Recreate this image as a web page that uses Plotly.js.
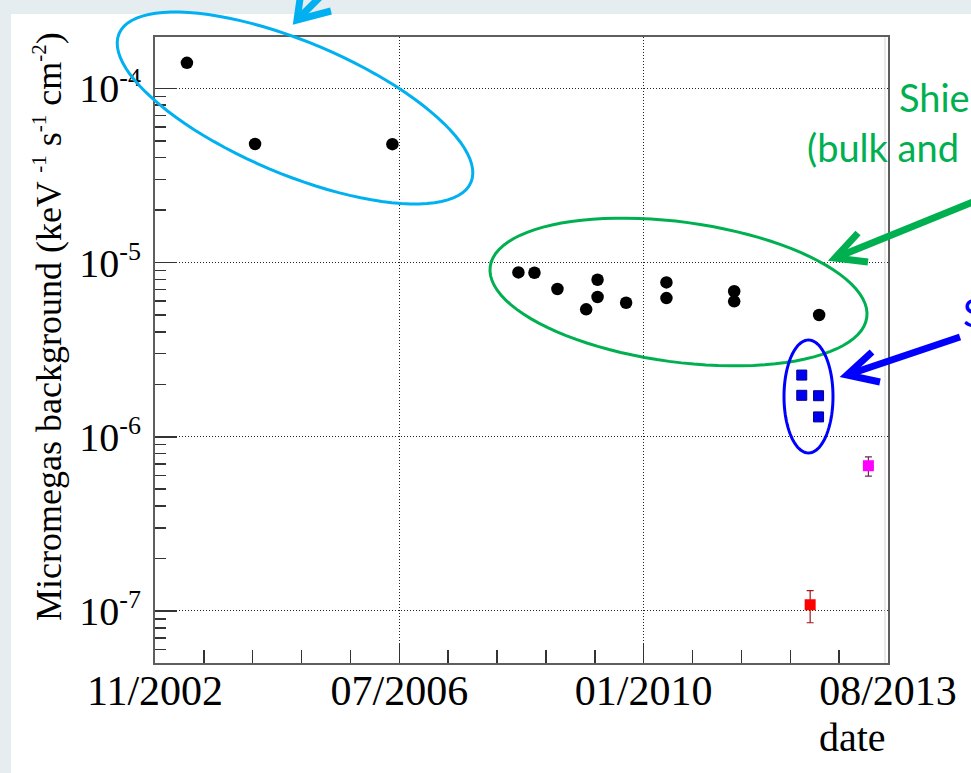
<!DOCTYPE html>
<html>
<head>
<meta charset="utf-8">
<script src="https://cdn.plot.ly/plotly-3.0.1.min.js"></script>
<style>
  html, body { margin: 0; padding: 0; background: #ffffff; }
  #chart { width: 971px; height: 773px; }
</style>
</head>
<body>
<div id="chart"></div>
<script>
// Micromegas background level versus date of measurement.

// Unshielded early detectors and shielded (bulk and microbulk) detectors
const blackDates = ['2003-05-20', '2004-05-19', '2006-05-25', '2008-03-30', '2008-06-24',
                    '2008-10-25', '2009-03-28', '2009-05-28', '2009-05-28', '2009-10-28',
                    '2010-06-01', '2010-06-01', '2011-05-30', '2011-05-30', '2012-08-27'];
const blackValues = [1.40e-4, 4.79e-5, 4.78e-5, 8.78e-6, 8.74e-6,
                     7.05e-6, 5.39e-6, 7.97e-6, 6.34e-6, 5.88e-6,
                     7.69e-6, 6.25e-6, 6.84e-6, 5.99e-6, 5.00e-6];

// Blue squares
const blueDates = ['2012-05-26', '2012-05-26', '2012-08-24', '2012-08-24'];
const blueValues = [2.26e-6, 1.73e-6, 1.72e-6, 1.30e-6];

// Magenta point with its uncertainty
const magentaDates = ['2013-05-18'];
const magentaValues = [6.82e-7];
const magentaErrUp = [0.85e-7];
const magentaErrDown = [0.88e-7];

// Red point with its uncertainty
const redDates = ['2012-07-10'];
const redValues = [1.086e-7];
const redErrUp = [0.224e-7];
const redErrDown = [0.23e-7];

// Axis labels
const xTickLabels = ['11/2002', '07/2006', '01/2010', '08/2013'];
const yTickExponents = [-7, -6, -5, -4];

// ---- axis geometry ----
const W = 971, H = 773;
const L = 155, R = 888, T = 37, B = 663;     // frame edges in page pixels
const xStart = Date.parse('2002-11-30T00:00:00Z');
const xEnd = Date.parse('2013-08-31T00:00:00Z');
const yRange = [-7.2985, -3.7055];

// Four equally spaced major time ticks, five divisions between each
const span = (xEnd - xStart) / 3;
const majorX = [], minorX = [];
for (let i = 0; i <= 3; i++) majorX.push(new Date(xStart + i * span).toISOString());
for (let i = 0; i <= 15; i++) if (i % 5) minorX.push(new Date(xStart + i * span / 5).toISOString());

const majorY = yTickExponents.map(e => Math.pow(10, e));
const yTickText = yTickExponents.map(e =>
  '10<sup><span style="font-size:26px">' + String(e) + '</span></sup>');
const minorY = [];
for (let e = -8; e <= -4; e++) for (let m = 2; m <= 9; m++) minorY.push(m * Math.pow(10, e));

// page pixel -> paper coordinates
const px = x => (x - L) / (R - L);
const py = y => (B - y) / (B - T);

function ellipsePath(cx, cy, a, b, deg) {
  const th = deg * Math.PI / 180, n = 96;
  let d = '';
  for (let i = 0; i <= n; i++) {
    const t = 2 * Math.PI * i / n;
    const x = cx + a * Math.cos(t) * Math.cos(th) - b * Math.sin(t) * Math.sin(th);
    const y = cy + a * Math.cos(t) * Math.sin(th) + b * Math.sin(t) * Math.cos(th);
    d += (i ? ' L ' : 'M ') + px(x).toFixed(5) + ',' + py(y).toFixed(5);
  }
  return d + ' Z';
}
function polyPath(pts) {
  return pts.map((p, i) => (i ? ' L ' : 'M ') + px(p[0]).toFixed(5) + ',' + py(p[1]).toFixed(5)).join('');
}
function ring(d, color, width) {
  return { type: 'path', xref: 'paper', yref: 'paper', path: d, layer: 'above',
           line: { color: color, width: width }, fillcolor: 'rgba(0,0,0,0)' };
}

const lightBlue = '#00b0f0', green = '#00b050', blue = '#0000ff';

const shapes = [
  // grey slide margin along the top and left edges
  { type: 'rect', xref: 'paper', yref: 'paper', x0: px(-2), x1: px(W + 2), y0: py(14), y1: py(-2),
    fillcolor: '#e5edf0', line: { width: 0 }, layer: 'above' },
  { type: 'rect', xref: 'paper', yref: 'paper', x0: px(-2), x1: px(11), y0: py(H + 2), y1: py(-2),
    fillcolor: '#e5edf0', line: { width: 0 }, layer: 'above' },
  // thin grey line just inside the right frame
  { type: 'line', xref: 'paper', yref: 'paper', x0: px(885), x1: px(885), y0: 0, y1: 1,
    line: { color: '#d4d4d4', width: 1 }, layer: 'above' },
  ring(ellipsePath(295, 108, 191, 66, 22.9), lightBlue, 3),
  ring(ellipsePath(678.5, 292, 190, 70, 7.7), green, 3),
  ring(ellipsePath(808.5, 396.5, 24.5, 56.5, 0), blue, 3),
  // arrows: shaft, then open head
  ring(polyPath([[335, -18], [297, 20]]), lightBlue, 7),
  ring(polyPath([[301, -8], [297, 20], [331, 11]]), lightBlue, 7),
  ring(polyPath([[980, 199], [835, 258]]), green, 7),
  ring(polyPath([[858, 233], [835, 258], [868, 262]]), green, 7),
  ring(polyPath([[960, 337], [847, 375]]), blue, 7),
  ring(polyPath([[872, 352], [847, 375], [880, 382]]), blue, 7)
];

const serif = 'Liberation Serif, Times New Roman, serif';
const sans = 'Lato, Noto Sans, sans-serif';
const supSpan = s => '<sup><span style="font-size:21px">' + s + '</span></sup>';

const annotations = [
  { xref: 'paper', yref: 'paper', x: px(48), y: py(327), xanchor: 'center', yanchor: 'middle',
    textangle: -90, showarrow: false,
    text: 'Micromegas background (keV ' + supSpan('-1') + ' s' + supSpan('-1') + ' cm' + supSpan('-2') + ')',
    font: { family: serif, size: 36, color: '#000' } },
  { xref: 'paper', yref: 'paper', x: px(888), y: py(737), xanchor: 'right', yanchor: 'middle',
    showarrow: false, text: 'date', font: { family: serif, size: 40, color: '#000' } },
  { xref: 'paper', yref: 'paper', x: px(897), y: py(97), xanchor: 'left', yanchor: 'middle',
    showarrow: false, text: 'Shie', font: { family: sans, size: 38, color: green } },
  { xref: 'paper', yref: 'paper', x: px(805), y: py(147), xanchor: 'left', yanchor: 'middle',
    showarrow: false, text: '(bulk and', font: { family: sans, size: 38, color: green } },
  { xref: 'paper', yref: 'paper', x: px(961), y: py(312), xanchor: 'left', yanchor: 'middle',
    showarrow: false, text: 'S', font: { family: sans, size: 38, color: blue } }
];

const traces = [
  { x: blackDates, y: blackValues, type: 'scatter', mode: 'markers', name: 'shielded',
    marker: { symbol: 'circle', size: 12.5, color: '#000' } },
  { x: blueDates, y: blueValues, type: 'scatter', mode: 'markers', name: 'blue',
    marker: { symbol: 'square', size: 10, color: '#0000f0', line: { color: '#00008a', width: 1 } } },
  { x: magentaDates, y: magentaValues, type: 'scatter', mode: 'markers', name: 'magenta',
    marker: { symbol: 'square', size: 11, color: '#ff00ff' },
    error_y: { type: 'data', symmetric: false, array: magentaErrUp, arrayminus: magentaErrDown,
               color: '#6a2a5a', thickness: 1.2, width: 3.5 } },
  { x: redDates, y: redValues, type: 'scatter', mode: 'markers', name: 'red',
    marker: { symbol: 'square', size: 11, color: '#ff0000' },
    error_y: { type: 'data', symmetric: false, array: redErrUp, arrayminus: redErrDown,
               color: '#a01818', thickness: 1.2, width: 3.5 } }
];

const layout = {
  width: W, height: H,
  margin: { l: L, r: W - R, t: T, b: H - B, pad: 0 },
  paper_bgcolor: '#ffffff', plot_bgcolor: '#ffffff',
  showlegend: false,
  xaxis: {
    type: 'date', range: [new Date(xStart).toISOString(), new Date(xEnd).toISOString()],
    tickmode: 'array', tickvals: majorX, ticktext: xTickLabels,
    ticks: 'inside', ticklen: 20, tickwidth: 1.5, tickcolor: '#333',
    tickfont: { family: serif, size: 42, color: '#000' }, ticklabelstandoff: -10,
    showgrid: true, gridcolor: '#222', gridwidth: 1, griddash: '1px,2px',
    showline: true, linecolor: '#5e5e5e', linewidth: 2, mirror: true, zeroline: false,
    minor: { tickmode: 'array', tickvals: minorX, ticks: 'inside', ticklen: 13,
             tickwidth: 1.5, tickcolor: '#333', showgrid: false }
  },
  yaxis: {
    type: 'log', range: yRange,
    tickmode: 'array', tickvals: majorY, ticktext: yTickText,
    ticks: 'inside', ticklen: 22, tickwidth: 1.5, tickcolor: '#333',
    tickfont: { family: serif, size: 40, color: '#000' }, ticklabelstandoff: 4,
    showgrid: true, gridcolor: '#222', gridwidth: 1, griddash: '1px,2px',
    showline: true, linecolor: '#5e5e5e', linewidth: 2, mirror: true, zeroline: false,
    minor: { tickmode: 'array', tickvals: minorY, ticks: 'inside', ticklen: 11,
             tickwidth: 1.5, tickcolor: '#333', showgrid: false }
  },
  shapes: shapes,
  annotations: annotations
};

Plotly.newPlot('chart', traces, layout, { staticPlot: true, displayModeBar: false });
</script>
</body>
</html>
